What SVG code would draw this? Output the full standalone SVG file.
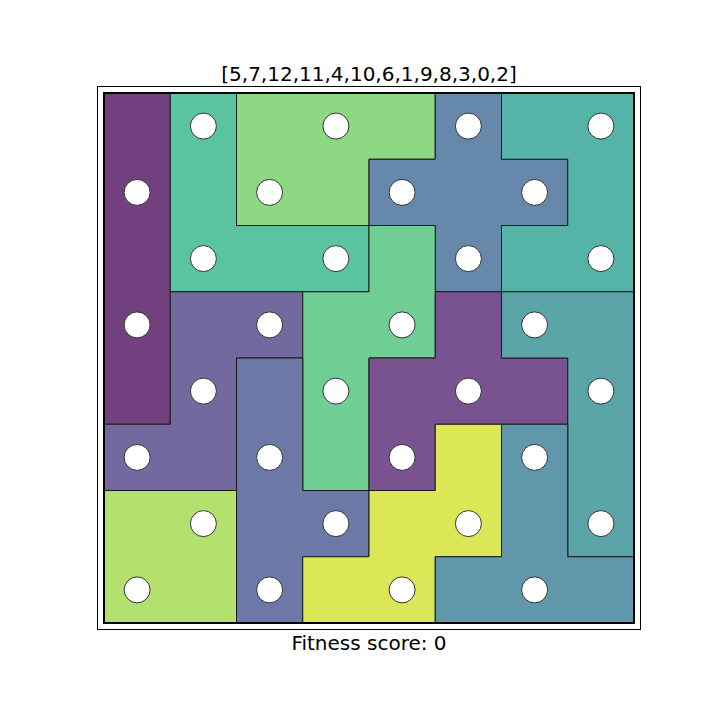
<svg xmlns="http://www.w3.org/2000/svg" width="720" height="720" viewBox="0 0 720 720">
<style>
.p{stroke:#1a1a1a;stroke-width:1;stroke-linejoin:miter}
.c{fill:#ffffff;stroke:#333333;stroke-width:1}
.t{font-family:"DejaVu Sans",sans-serif;font-size:20px;fill:#000;text-anchor:middle}
</style>
<rect x="0" y="0" width="720" height="720" fill="#ffffff"/>
<rect x="97.5" y="86.5" width="543" height="543" fill="none" stroke="#000" stroke-width="1"/>
<text class="t" x="369" y="81">[5,7,12,11,4,10,6,1,9,8,3,0,2]</text>
<g id="pieces">
<g id="pA"><path class="p" fill="#73407f" d="M104,93H170.25V424.25H104Z"/></g>
<g id="pB"><path class="p" fill="#5ac3a0" d="M170.25,93H236.5V225.5H369V291.75H170.25Z"/></g>
<g id="pC"><path class="p" fill="#8ed883" d="M236.5,93H435.25V159.25H369V225.5H236.5Z"/></g>
<g id="pD"><path class="p" fill="#6688aa" d="M435.25,93H501.5V159.25H567.75V225.5H501.5V291.75H435.25V225.5H369V159.25H435.25Z"/></g>
<g id="pE"><path class="p" fill="#55b3a8" d="M501.5,93H634V291.75H501.5V225.5H567.75V159.25H501.5Z"/></g>
<g id="pF"><path class="p" fill="#74699f" d="M170.25,291.75H302.75V358H236.5V490.5H104V424.25H170.25Z"/></g>
<g id="pG"><path class="p" fill="#6fce94" d="M369,225.5H435.25V358H369V490.5H302.75V291.75H369Z"/></g>
<g id="pH"><path class="p" fill="#79538f" d="M435.25,291.75H501.5V358H567.75V424.25H435.25V490.5H369V358H435.25Z"/></g>
<g id="pI"><path class="p" fill="#5ba5a9" d="M501.5,291.75H634V556.75H567.75V358H501.5Z"/></g>
<g id="pJ"><path class="p" fill="#6c79a6" d="M236.5,358H302.75V490.5H369V556.75H302.75V623H236.5Z"/></g>
<g id="pK"><path class="p" fill="#b4e16e" d="M104,490.5H236.5V623H104Z"/></g>
<g id="pL"><path class="p" fill="#dbe756" d="M435.25,424.25H501.5V556.75H435.25V623H302.75V556.75H369V490.5H435.25Z"/></g>
<g id="pM"><path class="p" fill="#6197aa" d="M501.5,424.25H567.75V556.75H634V623H435.25V556.75H501.5Z"/></g>
</g>
<rect x="104" y="93" width="530" height="530" fill="none" stroke="#000" stroke-width="2"/>
<g id="holes">
<circle class="c" cx="203.4" cy="126.1" r="13"/><circle class="c" cx="335.9" cy="126.1" r="13"/><circle class="c" cx="468.4" cy="126.1" r="13"/><circle class="c" cx="600.9" cy="126.1" r="13"/>
<circle class="c" cx="137.1" cy="192.4" r="13"/><circle class="c" cx="269.6" cy="192.4" r="13"/><circle class="c" cx="402.1" cy="192.4" r="13"/><circle class="c" cx="534.6" cy="192.4" r="13"/>
<circle class="c" cx="203.4" cy="258.6" r="13"/><circle class="c" cx="335.9" cy="258.6" r="13"/><circle class="c" cx="468.4" cy="258.6" r="13"/><circle class="c" cx="600.9" cy="258.6" r="13"/>
<circle class="c" cx="137.1" cy="324.9" r="13"/><circle class="c" cx="269.6" cy="324.9" r="13"/><circle class="c" cx="402.1" cy="324.9" r="13"/><circle class="c" cx="534.6" cy="324.9" r="13"/>
<circle class="c" cx="203.4" cy="391.1" r="13"/><circle class="c" cx="335.9" cy="391.1" r="13"/><circle class="c" cx="468.4" cy="391.1" r="13"/><circle class="c" cx="600.9" cy="391.1" r="13"/>
<circle class="c" cx="137.1" cy="457.4" r="13"/><circle class="c" cx="269.6" cy="457.4" r="13"/><circle class="c" cx="402.1" cy="457.4" r="13"/><circle class="c" cx="534.6" cy="457.4" r="13"/>
<circle class="c" cx="203.4" cy="523.6" r="13"/><circle class="c" cx="335.9" cy="523.6" r="13"/><circle class="c" cx="468.4" cy="523.6" r="13"/><circle class="c" cx="600.9" cy="523.6" r="13"/>
<circle class="c" cx="137.1" cy="589.9" r="13"/><circle class="c" cx="269.6" cy="589.9" r="13"/><circle class="c" cx="402.1" cy="589.9" r="13"/><circle class="c" cx="534.6" cy="589.9" r="13"/>
</g>
<text class="t" x="369" y="650">Fitness score: 0</text>
</svg>
